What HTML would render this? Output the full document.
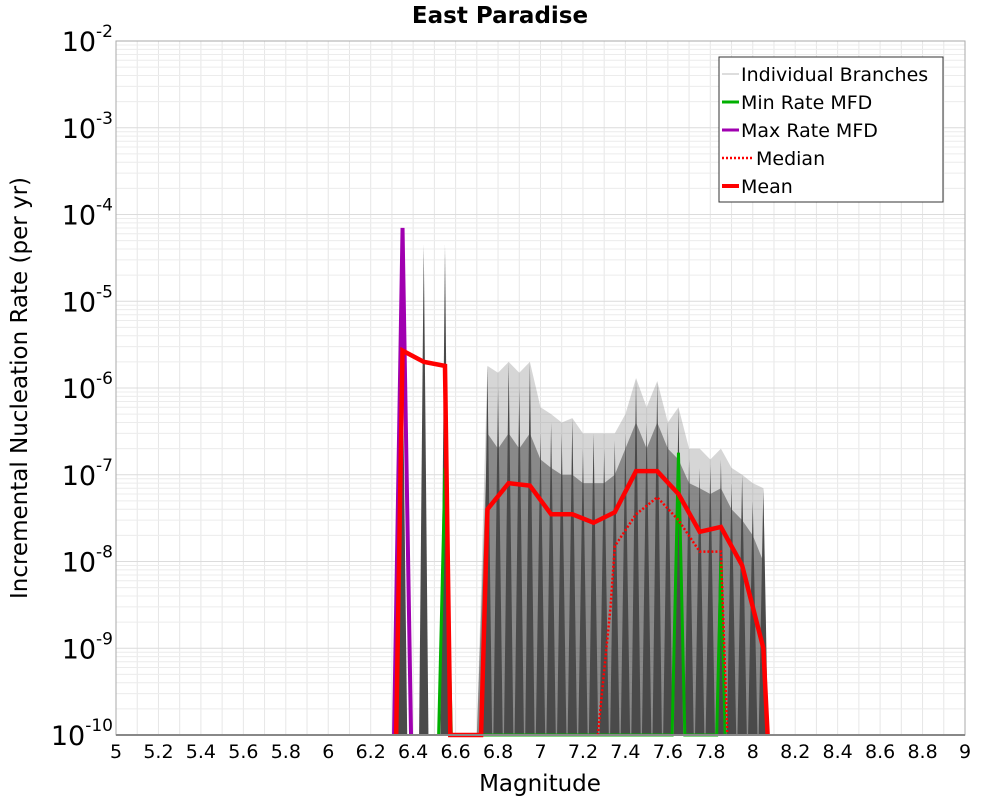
<!DOCTYPE html>
<html><head><meta charset="utf-8"><style>
body{margin:0;background:#fff;font-family:"Liberation Sans","DejaVu Sans",sans-serif}
svg text{font-family:"DejaVu Sans","Liberation Sans",sans-serif}
</style></head><body>
<svg id="chart" width="1000" height="800" xmlns="http://www.w3.org/2000/svg">
<text x="500" y="23" text-anchor="middle" font-size="23" font-weight="bold">East Paradise</text>
<g id="grid"></g><g id="series"></g><g id="axes"></g>
<text x="540" y="791" text-anchor="middle" font-size="23">Magnitude</text>
<text transform="translate(27,388) rotate(-90)" text-anchor="middle" font-size="23">Incremental Nucleation Rate (per yr)</text>
<g>
<rect x="719" y="57" width="224" height="145" fill="#fff" stroke="#333"/>
<line x1="722" y1="74" x2="739" y2="74" stroke="#bbb" stroke-width="1"/><text x="741" y="81" font-size="19">Individual Branches</text>
<line x1="722" y1="102" x2="739" y2="102" stroke="#00b000" stroke-width="3"/><text x="741" y="109" font-size="19">Min Rate MFD</text>
<line x1="722" y1="130" x2="739" y2="130" stroke="#a000b0" stroke-width="3"/><text x="741" y="137" font-size="19">Max Rate MFD</text>
<line x1="722" y1="158" x2="752" y2="158" stroke="#f00" stroke-width="2.5" stroke-dasharray="2,2"/><text x="756" y="165" font-size="19">Median</text>
<line x1="722" y1="186" x2="739" y2="186" stroke="#f00" stroke-width="4"/><text x="741" y="193" font-size="19">Mean</text>
</g>
</svg>
<script>
const xTicks=[5,5.2,5.4,5.6,5.8,6,6.2,6.4,6.6,6.8,7,7.2,7.4,7.6,7.8,8,8.2,8.4,8.6,8.8,9];
const yExps=[-10,-9,-8,-7,-6,-5,-4,-3,-2];
const branchMag=[6.70,6.75,6.80,6.85,6.90,6.95,7.00,7.05,7.10,7.15,7.20,7.25,7.30,7.35,7.40,7.45,7.50,7.55,7.60,7.65,7.70,7.75,7.80,7.85,7.90,7.95,8.00,8.05,8.07];
const branchMax=[1e-10,1.8e-6,1.5e-6,2e-6,1.5e-6,2e-6,6e-7,5e-7,4e-7,4.5e-7,3e-7,3e-7,3e-7,3e-7,5e-7,1.3e-6,6e-7,1.2e-6,4e-7,6e-7,2e-7,2e-7,1.5e-7,2e-7,1.2e-7,1e-7,8e-8,7e-8,1e-10];
const branchDense=[1e-10,3e-7,2e-7,3e-7,2e-7,3e-7,1.5e-7,1.2e-7,1e-7,1e-7,8e-8,8e-8,8e-8,1e-7,2e-7,4e-7,2e-7,4e-7,2e-7,1.5e-7,8e-8,7e-8,6e-8,7e-8,4e-8,3e-8,2e-8,1e-8,1e-10];
const spikeMag=[6.35,6.45,6.55,6.75,6.80,6.85,6.90,6.95,7.00,7.05,7.10,7.15,7.20,7.25,7.30,7.35,7.40,7.45,7.50,7.55,7.60,7.65,7.70,7.75,7.80,7.85,7.90,7.95,8.00,8.05];
const spikeVal=[3e-6,4.5e-5,4.5e-5,1.8e-6,1e-6,2e-6,1e-6,2e-6,3e-7,4e-7,3e-7,4.5e-7,2e-7,3e-7,2e-7,2.5e-7,3e-7,1.3e-6,4e-7,1.2e-6,4e-7,6e-7,1.5e-7,1.2e-7,1.3e-7,1.5e-7,8e-8,1e-7,5e-8,7e-8];
const meanMag=[6.32,6.35,6.45,6.55,6.575,6.72,6.75,6.85,6.95,7.05,7.15,7.25,7.35,7.45,7.55,7.65,7.75,7.85,7.95,8.05,8.07];
const meanVal=[1e-10,2.7e-6,2e-6,1.8e-6,1e-10,1e-10,4e-8,8e-8,7.5e-8,3.5e-8,3.5e-8,2.8e-8,3.7e-8,1.1e-7,1.1e-7,6e-8,2.2e-8,2.5e-8,9e-9,1e-9,1e-10];
const medianMag=[7.27,7.33,7.35,7.45,7.55,7.65,7.75,7.85,7.88];
const medianVal=[1e-10,3e-9,1.5e-8,3.5e-8,5.5e-8,3e-8,1.3e-8,1.3e-8,1e-10];
const minMag=[6.52,6.55,6.58,7.62,7.65,7.68,7.83,7.85,7.87];
const minVal=[1e-10,1.2e-7,1e-10,1e-10,1.8e-7,1e-10,1e-10,1e-8,1e-10];
const maxMag=[6.31,6.35,6.39];
const maxVal=[1e-10,7e-5,1e-10];
const X0=116,X1=965,Y0=41,Y1=735;
const sx=m=>X0+(m-5)/4*(X1-X0);
const sy=v=>Y1-(Math.log10(Math.max(v,1e-10))+10)/8*(Y1-Y0);
const NS='http://www.w3.org/2000/svg';
function mk(p,t,a){const e=document.createElementNS(NS,t);for(const k in a)e.setAttribute(k,a[k]);p.appendChild(e);return e;}
const grid=document.getElementById('grid'),ser=document.getElementById('series'),ax=document.getElementById('axes');
for(let m=5;m<=9.0001;m+=0.1){const l=mk(grid,'line',{x1:sx(m),x2:sx(m),y1:Y0,y2:Y1,stroke:'#e6e6e6'});

}
yExps.forEach(e=>{if(e<-2)for(let k=1;k<10;k++){const l=mk(grid,'line',{x1:X0,x2:X1,y1:sy(k*Math.pow(10,e)),y2:sy(k*Math.pow(10,e)),stroke:k==1?'#dcdcdc':'#ececec'});

}});
const pts=(ms,vs)=>ms.map((m,i)=>sx(m)+','+sy(vs[i])).join(' ');
const env=mk(ser,'polygon',{points:pts(branchMag,branchMax),fill:'#8a8a8a','fill-opacity':0.35});


const den=mk(ser,'polygon',{points:pts(branchMag,branchDense),fill:'#555','fill-opacity':0.6});


spikeMag.forEach((m,i)=>{const p=mk(ser,'polygon',{points:`${sx(m-0.022)},${Y1} ${sx(m)},${sy(spikeVal[i])} ${sx(m+0.022)},${Y1}`,fill:'#4a4a4a'});

});
function line(ms,vs,st,w,name,dash){const p=mk(ser,'polyline',{points:pts(ms,vs),fill:'none',stroke:st,'stroke-width':w,'stroke-linejoin':'miter'});if(dash)p.setAttribute('stroke-dasharray',dash);

}
line(maxMag,maxVal,'#a000b0',4,'max-rate-line');
line(minMag,minVal,'#00b000',3,'min-rate-line');
line(medianMag,medianVal,'#f00',2.5,'median-line','2,2');
line(meanMag,meanVal,'#f00',4.5,'mean-line');
mk(ax,'rect',{x:X0,y:Y0,width:X1-X0,height:Y1-Y0,fill:'none',stroke:'#aaa'});
mk(ax,'line',{x1:X0,x2:X1,y1:Y1,y2:Y1,stroke:'#888','stroke-width':2});
xTicks.forEach(t=>{const tx=mk(ax,'text',{x:sx(t),y:758,'text-anchor':'middle','font-size':19});tx.textContent=String(t);

});
yExps.forEach(e=>{const tx=mk(ax,'text',{x:113,y:sy(Math.pow(10,e))+10,'text-anchor':'end','font-size':27});tx.textContent='10';
const sp=mk(tx,'tspan',{dy:-14,'font-size':17});sp.textContent=String(e);

});
</script>
</body></html>
